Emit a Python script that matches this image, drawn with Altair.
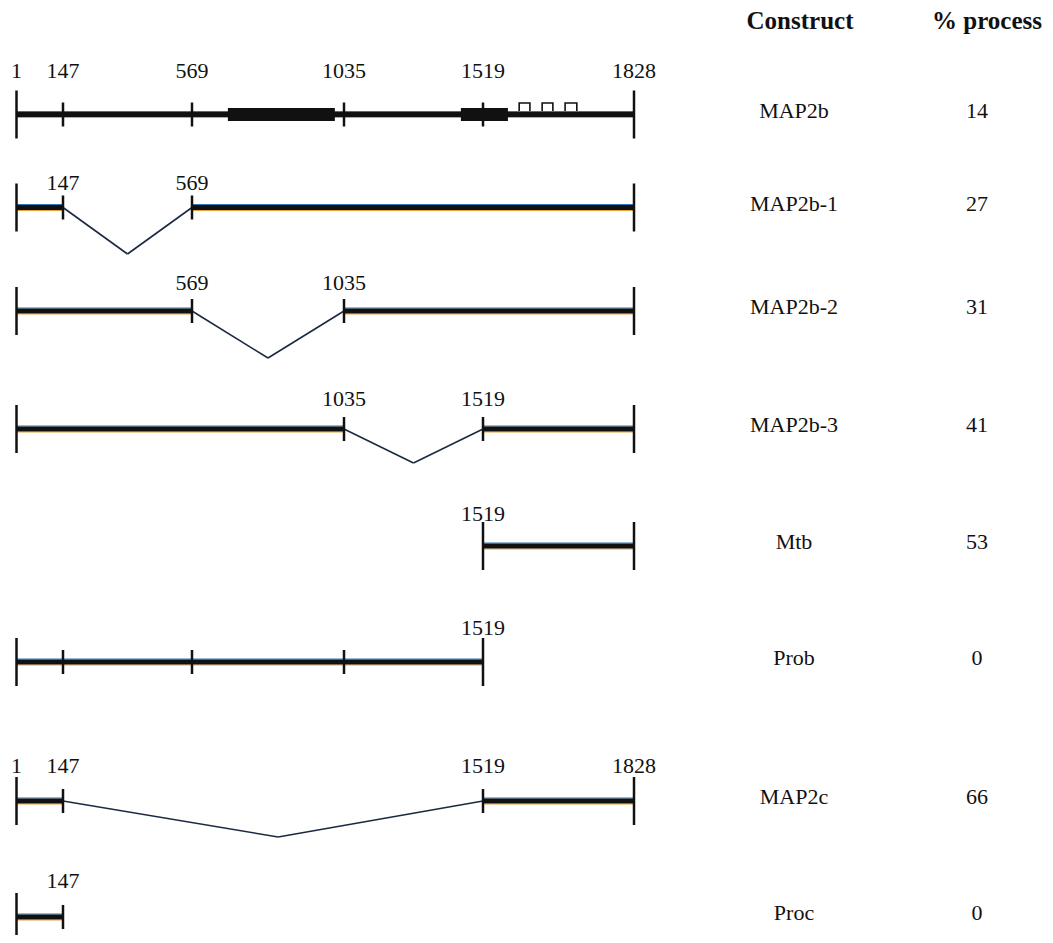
import altair as alt
import pandas as pd

# ---------------- data ----------------
constructs = ["MAP2b", "MAP2b-1", "MAP2b-2", "MAP2b-3", "Mtb", "Prob", "MAP2c", "Proc"]
percent_process = [14, 27, 31, 41, 53, 0, 66, 0]
boundaries = [1, 147, 569, 1035, 1519, 1828]

exons = [
    [(1, 1828)],
    [(1, 147), (569, 1828)],
    [(1, 569), (1035, 1828)],
    [(1, 1035), (1519, 1828)],
    [(1519, 1828)],
    [(1, 1519)],
    [(1, 147), (1519, 1828)],
    [(1, 147)],
]
deletions = [[], [(147, 569)], [(569, 1035)], [(1035, 1519)], [], [], [(147, 1519)], []]
long_ticks = [[1, 1828], [1, 1828], [1, 1828], [1, 1828], [1519, 1828], [1, 1519], [1, 1828], [1]]
short_ticks = [[147, 569, 1035, 1519], [147, 569], [569, 1035], [1035, 1519], [], [147, 569, 1035], [147, 1519], [147]]
position_labels = [
    [1, 147, 569, 1035, 1519, 1828],
    [147, 569],
    [569, 1035],
    [1035, 1519],
    [1519],
    [1519],
    [1, 147, 1519, 1828],
    [147],
]
thick_domains = [(679, 1007), (1442, 1570)]
repeat_boxes = [(1593, 1615), (1640, 1662), (1687, 1711)]

# ---------------- layout (scales) ----------------
X_RANGE = [8.5, 55, 184, 336, 475, 626]
ROW_Y = [106.5, 199.5, 303, 421, 538, 654, 793, 909]
LABEL_Y = [70, 182, 282, 398, 513, 627, 765, 880]
DIP_Y = [132, 246, 350, 455, 562, 682, 829, 932]

y_domain, y_range = [], []
for i in range(len(constructs)):
    y_domain += [i - 0.3, i, i + 0.3]
    y_range += [LABEL_Y[i], ROW_Y[i], DIP_Y[i]]

xs = alt.Scale(domain=boundaries, range=X_RANGE, zero=False, nice=False)
ys = alt.Scale(domain=y_domain, range=y_range, zero=False, nice=False)

FONT = "Liberation Serif"
INK = "#111111"
BLUE = "#2a76b6"
ORANGE = "#e9a23b"

# ---------------- tables ----------------
seg_df = pd.DataFrame([{"row": i, "start": s, "end": e} for i, segs in enumerate(exons) for s, e in segs])
del_df = pd.DataFrame([{"row": i, "start": s, "end": e} for i, d in enumerate(deletions) for s, e in d])
tick_df = pd.DataFrame(
    [{"row": i, "pos": p, "kind": "long"} for i, t in enumerate(long_ticks) for p in t]
    + [{"row": i, "pos": p, "kind": "short"} for i, t in enumerate(short_ticks) for p in t]
)
lab_df = pd.DataFrame([{"row": i, "pos": p, "text": str(p)} for i, t in enumerate(position_labels) for p in t])
dom_df = pd.DataFrame([{"row": 0, "start": s, "end": e} for s, e in thick_domains])
box_df = pd.DataFrame([{"row": 0, "start": s, "end": e} for s, e in repeat_boxes])
name_df = pd.DataFrame({"row": list(range(len(constructs))), "name": constructs,
                        "pct": [str(v) for v in percent_process]})

X = lambda f: alt.X(f, type="quantitative", scale=xs, axis=None)
Y = lambda f: alt.Y(f, type="quantitative", scale=ys, axis=None)

boxes = alt.Chart(box_df).mark_rect(fill="white", stroke=INK, strokeWidth=1.6, yOffset=-11.5, y2Offset=-1.5).encode(
    x=X("start"), x2="end", y=Y("row"), y2="row")

fringe_top = alt.Chart(seg_df).mark_rule(color=BLUE, strokeWidth=1.2, yOffset=-3, y2Offset=-3).encode(
    x=X("start"), x2="end", y=Y("row"), y2="row")
fringe_bot = alt.Chart(seg_df).mark_rule(color=ORANGE, strokeWidth=1.2, yOffset=3, y2Offset=3).encode(
    x=X("start"), x2="end", y=Y("row"), y2="row")
lines = alt.Chart(seg_df).mark_rule(color=INK, strokeWidth=5).encode(
    x=X("start"), x2="end", y=Y("row"))

domains = alt.Chart(dom_df).mark_rule(color=INK, strokeWidth=13).encode(
    x=X("start"), x2="end", y=Y("row"))

base_del = alt.Chart(del_df).transform_calculate(
    mid="(datum.start + datum.end) / 2", dip="datum.row + 0.3")
leg1 = base_del.mark_rule(color="#1b2a40", strokeWidth=1.6).encode(
    x=X("start"), x2="mid:Q", y=Y("row"), y2="dip:Q")
leg2 = base_del.mark_rule(color="#1b2a40", strokeWidth=1.6).encode(
    x=X("mid"), x2="end:Q", y=Y("dip"), y2="row:Q")

ticks_long = alt.Chart(tick_df).transform_filter("datum.kind == 'long'").mark_tick(
    orient="vertical", size=48, thickness=2.5, color=INK, opacity=1).encode(x=X("pos"), y=Y("row"))
ticks_short = alt.Chart(tick_df).transform_filter("datum.kind == 'short'").mark_tick(
    orient="vertical", size=24, thickness=2.5, color=INK, opacity=1).encode(x=X("pos"), y=Y("row"))

labels = alt.Chart(lab_df).transform_calculate(ly="datum.row - 0.3").mark_text(
    font=FONT, fontSize=22, color=INK, align="center", baseline="alphabetic").encode(
    x=X("pos"), y=Y("ly"), text="text:N")

names = alt.Chart(name_df).mark_text(font=FONT, fontSize=22, color=INK, align="center",
                                     baseline="alphabetic", dy=3).encode(
    x=alt.value(786), y=Y("row"), text="name:N")
pcts = alt.Chart(name_df).mark_text(font=FONT, fontSize=22, color=INK, align="center",
                                    baseline="alphabetic", dy=3).encode(
    x=alt.value(969), y=Y("row"), text="pct:N")

hdr_df = pd.DataFrame({"t": ["Construct", "% process"], "hx": [792, 979]})
headers = alt.Chart(hdr_df).mark_text(font=FONT, fontSize=25, fontWeight="bold", color=INK,
                                      align="center", baseline="alphabetic").encode(
    x=alt.X("hx:Q", scale=None, axis=None), y=alt.value(21), text="t:N")

chart = alt.layer(boxes, fringe_top, fringe_bot, lines, domains, leg1, leg2, ticks_long, ticks_short,
                  labels, names, pcts, headers).properties(
    width=1037, height=927, padding=0, autosize=alt.AutoSizeParams(type="none")
).configure(background="white", view=alt.ViewConfig(stroke=None))

chart.save("out.html", embed_options={"renderer": "svg", "actions": False})
